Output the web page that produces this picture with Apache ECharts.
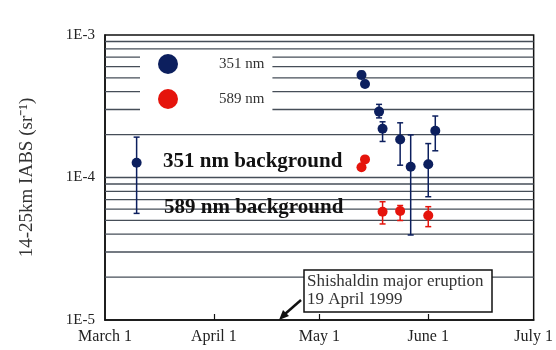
<!DOCTYPE html>
<html>
<head>
<meta charset="utf-8">
<script src="https://cdn.jsdelivr.net/npm/echarts@6/dist/echarts.min.js"></script>
<style>html,body{margin:0;padding:0;background:#fff}#c{width:556px;height:350px}</style>
</head>
<body>
<div id="c"></div>
<script>
// ---- data ----
const xTickDates = ['1999-03-01', '1999-04-01', '1999-05-01', '1999-06-01', '1999-07-01'];
const xTickLabels = ['March 1', 'April 1', 'May 1', 'June 1', 'July 1'];
const yTickValues = [1e-5, 1e-4, 1e-3];
const yTickLabels = ['1E-5', '1E-4', '1E-3'];
const gridValues = [2e-5, 3e-5, 4e-5, 5e-5, 6e-5, 7e-5, 8e-5, 9e-5, 1e-4,
                    2e-4, 3e-4, 4e-4, 5e-4, 6e-4, 7e-4, 8e-4, 9e-4];

const blueName = '351 nm';
const blueDates = ['1999-03-10', '1999-05-13', '1999-05-14', '1999-05-18', '1999-05-19', '1999-05-24', '1999-05-27', '1999-06-01', '1999-06-03'];
const blueValues = [1.27e-4, 5.24e-4, 4.53e-4, 2.90e-4, 2.20e-4, 1.85e-4, 1.19e-4, 1.24e-4, 2.13e-4];
const blueLow    = [5.6e-5, 4.95e-4, 4.3e-4, 2.62e-4, 1.79e-4, 1.22e-4, 3.95e-5, 7.33e-5, 1.54e-4];
const blueHigh   = [1.92e-4, 5.55e-4, 4.78e-4, 3.26e-4, 2.46e-4, 2.42e-4, 1.99e-4, 1.73e-4, 2.70e-4];

const redName = '589 nm';
const redDates = ['1999-05-13', '1999-05-14', '1999-05-19', '1999-05-24', '1999-06-01'];
const redValues = [1.18e-4, 1.34e-4, 5.75e-5, 5.82e-5, 5.41e-5];
const redLow    = [null, null, 4.72e-5, 4.99e-5, 4.52e-5];
const redHigh   = [null, null, 6.76e-5, 6.36e-5, 6.24e-5];

const bgText351 = '351 nm background';
const bgText589 = '589 nm background';
const noteLines = ['Shishaldin major eruption', '19 April 1999'];
const yAxisTitle = '14-25km IABS (sr\u207B\u00B9)';

// ---- build ----
const DAY = 86400000;
const origin = Date.parse(xTickDates[0] + 'T00:00:00Z');
const day = s => (Date.parse(s + 'T00:00:00Z') - origin) / DAY;
const SERIF = '"Liberation Serif","Times New Roman",serif';
const BLUE = '#0c1f5e', RED = '#e5140c';

const xTicks = xTickDates.map(day);
const pts = (d, v) => d.map((s, i) => [day(s), v[i]]);
const bars = (d, lo, hi) => d.map((s, i) => [day(s), lo[i], hi[i]]).filter(r => r[1] != null);

function errRender(color) {
  return function (params, api) {
    const x = api.value(0);
    const a = api.coord([x, api.value(2)]);
    const b = api.coord([x, api.value(1)]);
    const hw = 3;
    const st = { stroke: color, lineWidth: 1.5 };
    return {
      type: 'group',
      children: [
        { type: 'line', shape: { x1: a[0], y1: a[1], x2: b[0], y2: b[1] }, style: st },
        { type: 'line', shape: { x1: a[0] - hw, y1: a[1], x2: a[0] + hw, y2: a[1] }, style: st },
        { type: 'line', shape: { x1: b[0] - hw, y1: b[1], x2: b[0] + hw, y2: b[1] }, style: st }
      ]
    };
  };
}

const chart = echarts.init(document.getElementById('c'), null, { renderer: 'canvas' });
chart.setOption({
  animation: false,
  backgroundColor: '#fff',
  grid: { left: 105, right: 21, top: 35, bottom: 30, show: true, borderColor: '#111', borderWidth: 1.5, backgroundColor: 'transparent' },
  legend: {
    data: [blueName, redName],
    orient: 'vertical', left: 140, top: 51,
    icon: 'circle', itemWidth: 20, itemHeight: 20, itemGap: 15,
    padding: [3, 8, 3, 18],
    backgroundColor: '#fff',
    selectedMode: false,
    textStyle: { fontFamily: SERIF, fontSize: 15, color: '#333', padding: [0, 0, 0, 36] }
  },
  xAxis: {
    type: 'value', min: xTicks[0], max: xTicks[xTicks.length - 1],
    axisLine: { show: true, lineStyle: { color: '#111', width: 1.5 } },
    axisTick: { show: true, inside: true, length: 6, customValues: xTicks.slice(1, -1), lineStyle: { color: '#111', width: 1.2 } },
    axisLabel: {
      customValues: xTicks, margin: 9, showMinLabel: true, showMaxLabel: true,
      fontFamily: SERIF, fontSize: 16, color: '#222',
      formatter: v => { let k = 0, best = Infinity; xTicks.forEach((x, i) => { const d = Math.abs(x - v); if (d < best) { best = d; k = i; } }); return xTickLabels[k]; }
    },
    splitLine: { show: false }
  },
  yAxis: {
    type: 'log', logBase: 10, min: 1e-5, max: 1e-3,
    name: yAxisTitle, nameLocation: 'middle', nameGap: 68,
    nameTextStyle: { fontFamily: SERIF, fontSize: 19, color: '#333' },
    axisLine: { show: true, lineStyle: { color: '#111', width: 1.5 } },
    axisTick: { show: false },
    axisLabel: {
      margin: 10, fontFamily: SERIF, fontSize: 15, color: '#222',
      formatter: v => { const e = Math.round(Math.log10(v)); const i = yTickValues.findIndex(y => Math.round(Math.log10(y)) === e); return i >= 0 ? yTickLabels[i] : ''; }
    },
    splitLine: { show: false }
  },
  series: [
    {
      type: 'custom', name: 'grid', z: 1, silent: true,
      data: gridValues.map(v => [xTicks[0], v]),
      renderItem: (params, api) => {
        const p = api.coord([api.value(0), api.value(1)]);
        const cs = params.coordSys;
        return { type: 'line', shape: { x1: cs.x, y1: p[1], x2: cs.x + cs.width, y2: p[1] }, style: { stroke: '#464e58', lineWidth: 1.3 } };
      }
    },
    { type: 'custom', name: blueName + ' err', z: 3, silent: true, data: bars(blueDates, blueLow, blueHigh), renderItem: errRender(BLUE), encode: { x: 0, y: [1, 2] } },
    { type: 'custom', name: redName + ' err', z: 3, silent: true, data: bars(redDates, redLow, redHigh), renderItem: errRender(RED), encode: { x: 0, y: [1, 2] } },
    { type: 'scatter', name: blueName, z: 4, symbol: 'circle', symbolSize: 10, itemStyle: { color: BLUE, opacity: 1 }, data: pts(blueDates, blueValues) },
    { type: 'scatter', name: redName, z: 4, symbol: 'circle', symbolSize: 10, itemStyle: { color: RED, opacity: 1 }, data: pts(redDates, redValues) }
  ],
  graphic: [
    { type: 'text', x: 163, y: 162, z: 100, style: { text: bgText351, font: 'bold 21px ' + SERIF, fill: '#111', verticalAlign: 'middle' } },
    { type: 'text', x: 164, y: 208, z: 100, style: { text: bgText589, font: 'bold 21px ' + SERIF, fill: '#111', verticalAlign: 'middle' } },
    { type: 'rect', z: 100, shape: { x: 304, y: 270, width: 188, height: 42 }, style: { fill: '#fff', stroke: '#111', lineWidth: 1.5 } },
    { type: 'text', x: 307, y: 282, z: 101, style: { text: noteLines[0], font: '17px ' + SERIF, fill: '#333', verticalAlign: 'middle' } },
    { type: 'text', x: 307, y: 300, z: 101, style: { text: noteLines[1], font: '17px ' + SERIF, fill: '#333', verticalAlign: 'middle' } },
    { type: 'line', z: 101, shape: { x1: 301, y1: 300, x2: 285, y2: 314 }, style: { stroke: '#111', lineWidth: 2.5 } },
    { type: 'polygon', z: 101, shape: { points: [[279, 320], [289, 316], [283, 310]] }, style: { fill: '#111' } }
  ]
});
</script>
</body>
</html>
